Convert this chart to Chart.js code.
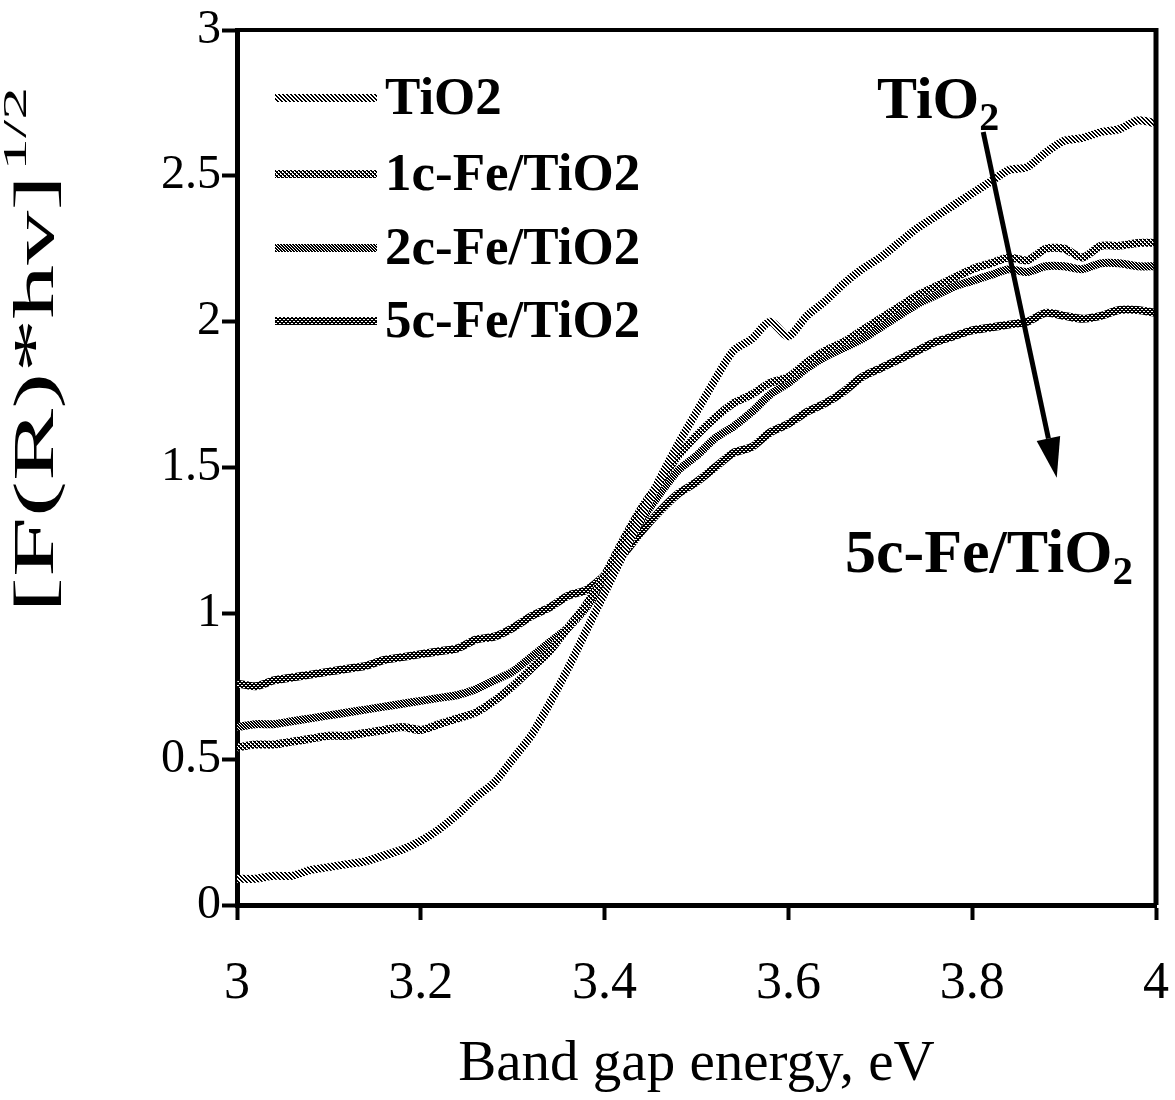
<!DOCTYPE html>
<html>
<head>
<meta charset="utf-8">
<script src="https://cdn.jsdelivr.net/npm/chart.js@4.4.0/dist/chart.umd.min.js"></script>
<style>
    html, body { margin: 0; padding: 0; background: #fff; }
    #wrap { width: 1175px; height: 1100px; }
</style>
</head>
<body>
<div id="wrap"><canvas id="chart" width="1175" height="1100"></canvas></div>
<script>
// Band gap energy (eV)
const ENERGY = [
    3.00, 3.02, 3.04, 3.06, 3.08, 3.10, 3.12, 3.14, 3.16, 3.18,
    3.20, 3.22, 3.24, 3.26, 3.28, 3.30, 3.32, 3.34, 3.36, 3.38,
    3.40, 3.42, 3.44, 3.46, 3.48, 3.50, 3.52, 3.54, 3.56, 3.58,
    3.60, 3.62, 3.64, 3.66, 3.68, 3.70, 3.72, 3.74, 3.76, 3.78,
    3.80, 3.82, 3.84, 3.86, 3.88, 3.90, 3.92, 3.94, 3.96, 3.98, 4.00
];

// [F(R)*hv]^1/2 for each sample
const TIO2 = [
    0.09, 0.09, 0.10, 0.10, 0.12, 0.13, 0.14, 0.15, 0.17, 0.19,
    0.22, 0.26, 0.31, 0.37, 0.42, 0.50, 0.58, 0.69, 0.81, 0.94,
    1.07, 1.20, 1.33, 1.46, 1.58, 1.69, 1.80, 1.90, 1.94, 2.00,
    1.95, 2.02, 2.07, 2.13, 2.18, 2.22, 2.27, 2.32, 2.36, 2.40,
    2.44, 2.48, 2.52, 2.53, 2.58, 2.62, 2.63, 2.65, 2.66, 2.69, 2.68
];
const FE1C = [
    0.54, 0.55, 0.55, 0.56, 0.57, 0.58, 0.58, 0.59, 0.60, 0.61,
    0.60, 0.62, 0.64, 0.66, 0.70, 0.75, 0.81, 0.87, 0.95, 1.03,
    1.13, 1.25, 1.36, 1.45, 1.54, 1.61, 1.67, 1.72, 1.75, 1.79,
    1.81, 1.86, 1.90, 1.93, 1.97, 2.01, 2.05, 2.09, 2.12, 2.15,
    2.18, 2.20, 2.22, 2.21, 2.25, 2.25, 2.22, 2.26, 2.26, 2.27, 2.27
];
const FE2C = [
    0.61, 0.62, 0.62, 0.63, 0.64, 0.65, 0.66, 0.67, 0.68, 0.69,
    0.70, 0.71, 0.72, 0.74, 0.77, 0.80, 0.85, 0.90, 0.95, 1.02,
    1.11, 1.22, 1.32, 1.41, 1.49, 1.54, 1.60, 1.64, 1.69, 1.75,
    1.79, 1.84, 1.88, 1.91, 1.94, 1.98, 2.02, 2.06, 2.09, 2.12,
    2.14, 2.16, 2.18, 2.17, 2.19, 2.19, 2.18, 2.20, 2.20, 2.19, 2.19
];
const FE5C = [
    0.76, 0.75, 0.77, 0.78, 0.79, 0.80, 0.81, 0.82, 0.84, 0.85,
    0.86, 0.87, 0.88, 0.91, 0.92, 0.95, 0.99, 1.02, 1.06, 1.08,
    1.13, 1.20, 1.28, 1.35, 1.41, 1.45, 1.50, 1.55, 1.57, 1.62,
    1.65, 1.69, 1.72, 1.76, 1.81, 1.84, 1.87, 1.90, 1.93, 1.95,
    1.97, 1.98, 1.99, 2.00, 2.03, 2.02, 2.01, 2.02, 2.04, 2.04, 2.03
];

const SERIES_LABELS = ['TiO2', '1c-Fe/TiO2', '2c-Fe/TiO2', '5c-Fe/TiO2'];
const Y_TICKS = [0, 0.5, 1, 1.5, 2, 2.5, 3];
const X_TICKS = [3, 3.2, 3.4, 3.6, 3.8, 4];

const SERIF = '"Liberation Serif", "Times New Roman", serif';

// small black/white tiles to mimic the hatched line fills
function makePattern(size, isDark) {
    const c = document.createElement('canvas');
    c.width = size;
    c.height = size;
    const g = c.getContext('2d');
    g.fillStyle = '#fff';
    g.fillRect(0, 0, size, size);
    g.fillStyle = '#000';
    for (let y = 0; y < size; y++) {
        for (let x = 0; x < size; x++) {
            if (isDark(x, y)) g.fillRect(x, y, 1, 1);
        }
    }
    return g.createPattern(c, 'repeat');
}

const patterns = [
    makePattern(4, (x, y) => ((x - y + 8) % 4) < 2),
    makePattern(4, (x, y) => ((x - y + 8) % 4) < 2 || ((x + y) % 4) === 0),
    makePattern(3, (x, y) => ((x - y + 6) % 3) < 2 && !(x === 2 && y === 0)),
    makePattern(4, (x, y) => !((x === 1 && y === 1) || (x === 3 && y === 3) || (x === 2 && y === 1) || (x === 0 && y === 3)))
];

function drawSubscripted(ctx, base, sub, x, y, size) {
    ctx.font = `bold ${size}px ${SERIF}`;
    ctx.fillText(base, x, y);
    const w = ctx.measureText(base).width;
    ctx.font = `bold ${Math.round(size * 0.66)}px ${SERIF}`;
    ctx.fillText(sub, x + w, y + size * 0.2);
}

const decorations = {
    id: 'decorations',
    afterDraw(chart) {
        const ctx = chart.ctx;
        const area = chart.chartArea;
        const xs = chart.scales.x;
        const ys = chart.scales.y;
        ctx.save();

        // top and right frame
        ctx.strokeStyle = '#000';
        ctx.lineWidth = 4;
        ctx.beginPath();
        ctx.moveTo(area.left - 2, area.top);
        ctx.lineTo(area.right, area.top);
        ctx.stroke();
        ctx.lineWidth = 5;
        ctx.beginPath();
        ctx.moveTo(area.right, area.top - 2);
        ctx.lineTo(area.right, area.bottom);
        ctx.stroke();

        // legend inside the plot
        ctx.textAlign = 'left';
        ctx.textBaseline = 'middle';
        const rows = [98, 174, 248, 321];
        chart.data.datasets.forEach((ds, i) => {
            ctx.strokeStyle = ds.borderColor;
            ctx.lineWidth = 8;
            ctx.beginPath();
            ctx.moveTo(275, rows[i]);
            ctx.lineTo(377, rows[i]);
            ctx.stroke();
            ctx.fillStyle = '#000';
            ctx.font = `bold 53px ${SERIF}`;
            ctx.fillText(ds.label, 385, rows[i] + 2);
        });

        // arrow TiO2 -> 5c-Fe/TiO2
        const x0 = xs.getPixelForValue(3.812), y0 = ys.getPixelForValue(2.65);
        const x1 = xs.getPixelForValue(3.892), y1 = ys.getPixelForValue(1.465);
        const ang = Math.atan2(y1 - y0, x1 - x0);
        const head = 40, half = 12;
        const bx = x1 - head * Math.cos(ang), by = y1 - head * Math.sin(ang);
        ctx.strokeStyle = '#000';
        ctx.lineWidth = 5;
        ctx.beginPath();
        ctx.moveTo(x0, y0);
        ctx.lineTo(bx, by);
        ctx.stroke();
        ctx.fillStyle = '#000';
        ctx.beginPath();
        ctx.moveTo(x1, y1);
        ctx.lineTo(bx + half * Math.sin(ang), by - half * Math.cos(ang));
        ctx.lineTo(bx - half * Math.sin(ang), by + half * Math.cos(ang));
        ctx.closePath();
        ctx.fill();

        // annotations
        ctx.textBaseline = 'alphabetic';
        drawSubscripted(ctx, 'TiO', '2', 877, 118, 60);
        drawSubscripted(ctx, '5c-Fe/TiO', '2', 845, 572, 62);

        // y axis title with superscript, elongated along its length like the original
        ctx.translate(53, 613);
        ctx.rotate(-Math.PI / 2);
        const main = '[F(R)*hv]';
        const sup = '1/2';
        ctx.font = `56px ${SERIF}`;
        const wMain = ctx.measureText(main).width;
        ctx.font = `34px ${SERIF}`;
        const wSup = ctx.measureText(sup).width;
        ctx.scale(526 / (wMain + wSup + 2), 1);
        ctx.font = `56px ${SERIF}`;
        ctx.fillText(main, 0, 0);
        ctx.font = `34px ${SERIF}`;
        ctx.fillText(sup, wMain + 2, -27);

        ctx.restore();
    }
};

const datasets = [TIO2, FE1C, FE2C, FE5C].map((values, i) => ({
    label: SERIES_LABELS[i],
    data: ENERGY.map((e, j) => ({ x: e, y: values[j] })),
    borderColor: patterns[i],
    backgroundColor: patterns[i],
    borderWidth: 8,
    pointRadius: 0,
    tension: 0.25,
    fill: false
}));

const ctx = document.getElementById('chart');
new Chart(ctx, {
    type: 'line',
    data: { datasets: datasets },
    options: {
        responsive: false,
        animation: false,
        devicePixelRatio: 1,
        layout: { padding: { left: 0, right: 19, top: 30, bottom: 0 } },
        plugins: {
            legend: { display: false },
            tooltip: { enabled: false }
        },
        scales: {
            x: {
                type: 'linear',
                min: 3,
                max: 4,
                afterBuildTicks: (scale) => { scale.ticks = X_TICKS.map(v => ({ value: v })); },
                afterFit: (scale) => {
                    scale.height = 195;
                    scale.paddingLeft = 0;
                    scale.paddingRight = 0;
                },
                border: { color: '#000', width: 5 },
                grid: { display: true, drawOnChartArea: false, drawTicks: true, tickLength: 15, tickWidth: 4, tickColor: '#000' },
                ticks: {
                    color: '#000',
                    padding: 33,
                    maxRotation: 0,
                    font: { family: SERIF, size: 52 },
                    callback: (v) => String(Math.round(v * 10) / 10)
                },
                title: { display: true, text: 'Band gap energy, eV', color: '#000', padding: { top: 0, bottom: 1 }, font: { family: SERIF, size: 57 } }
            },
            y: {
                type: 'linear',
                min: 0,
                max: 3,
                afterBuildTicks: (scale) => { scale.ticks = Y_TICKS.map(v => ({ value: v })); },
                afterFit: (scale) => {
                    scale.width = 237;
                    scale.paddingTop = 0;
                    scale.paddingBottom = 0;
                },
                border: { color: '#000', width: 5 },
                grid: { display: true, drawOnChartArea: false, drawTicks: true, tickLength: 15, tickWidth: 4, tickColor: '#000' },
                ticks: {
                    color: '#000',
                    padding: 1,
                    font: { family: SERIF, size: 48 },
                    callback: (v) => String(Math.round(v * 10) / 10)
                }
            }
        }
    },
    plugins: [decorations]
});
</script>
</body>
</html>
